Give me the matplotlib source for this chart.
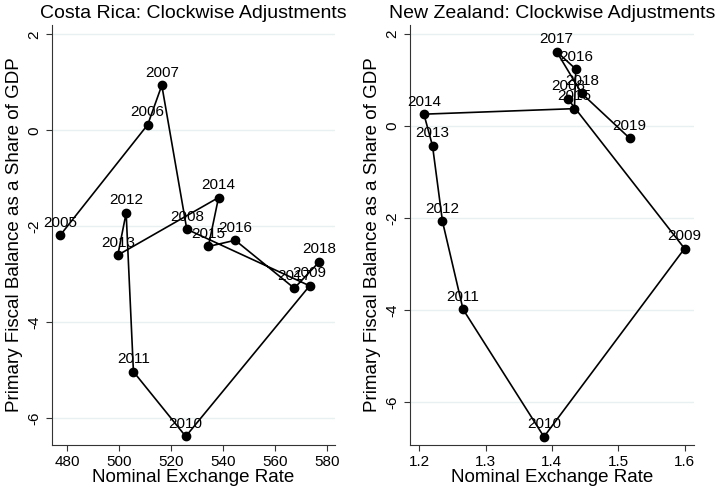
import numpy as np
import matplotlib.pyplot as plt

plt.rcParams['font.family'] = ['Liberation Sans', 'DejaVu Sans']

# Costa Rica
cr_years = [2005, 2006, 2007, 2008, 2009, 2010, 2011, 2012, 2013, 2014, 2015, 2016, 2017, 2018]
cr_fx = [477.3, 511.0, 516.4, 526.0, 573.2, 525.6, 505.5, 502.7, 499.5, 538.2, 534.3, 544.6, 567.3, 576.9]
cr_pb = [-2.19, 0.12, 0.94, -2.06, -3.24, -6.38, -5.03, -1.72, -2.60, -1.40, -2.42, -2.29, -3.29, -2.74]

# New Zealand
nz_years = [2008, 2009, 2010, 2011, 2012, 2013, 2014, 2015, 2016, 2017, 2018, 2019]
nz_fx = [1.424, 1.600, 1.388, 1.266, 1.235, 1.220, 1.207, 1.434, 1.436, 1.407, 1.445, 1.517]
nz_pb = [0.59, -2.66, -6.75, -3.98, -2.07, -0.43, 0.26, 0.38, 1.24, 1.62, 0.71, -0.26]

grid_col = '#e8f0f2'


def panel(ax, x, y, years, title, xticks, xlim, ylim, xfmt):
    ax.plot(x, y, color='black', lw=1.2, marker='o', ms=6, zorder=3)
    for xi, yi, yr in zip(x, y, years):
        ax.annotate(str(yr), (xi, yi), xytext=(0, 4), textcoords='offset points',
                    ha='center', va='bottom', fontsize=11, zorder=4)
    ax.set_title(title, fontsize=14, pad=5)
    ax.set_xlabel('Nominal Exchange Rate', fontsize=13.5, labelpad=0)
    ax.set_ylabel('Primary Fiscal Balance as a Share of GDP', fontsize=13.5, labelpad=3)
    ax.set_xticks(xticks)
    ax.set_xticklabels([xfmt(v) for v in xticks])
    ax.set_yticks([2, 0, -2, -4, -6])
    ax.set_yticklabels(['2', '0', '-2', '-4', '-6'], rotation=90, va='center')
    ax.tick_params(labelsize=11, length=4, width=0.8, color='#333333')
    ax.set_xlim(xlim)
    ax.set_ylim(ylim)
    ax.yaxis.grid(True, color=grid_col, lw=1.0, zorder=0)
    ax.set_axisbelow(True)
    for s in ['top', 'right']:
        ax.spines[s].set_visible(False)
    for s in ['left', 'bottom']:
        ax.spines[s].set_color('#333333')
        ax.spines[s].set_linewidth(0.8)


fig = plt.figure(figsize=(7.15, 4.88), dpi=100)
ax1 = fig.add_axes([0.0727, 0.088, 0.396, 0.861])
ax2 = fig.add_axes([0.5734, 0.088, 0.397, 0.861])

panel(ax1, cr_fx, cr_pb, cr_years, 'Costa Rica: Clockwise Adjustments',
      [480, 500, 520, 540, 560, 580], (474.2, 583), (-6.56, 2.2), lambda v: str(v))
panel(ax2, nz_fx, nz_pb, nz_years, 'New Zealand: Clockwise Adjustments',
      [1.2, 1.3, 1.4, 1.5, 1.6], (1.186, 1.614), (-6.93, 2.2), lambda v: '%.1f' % v)

fig.savefig('out.png', dpi=100)
